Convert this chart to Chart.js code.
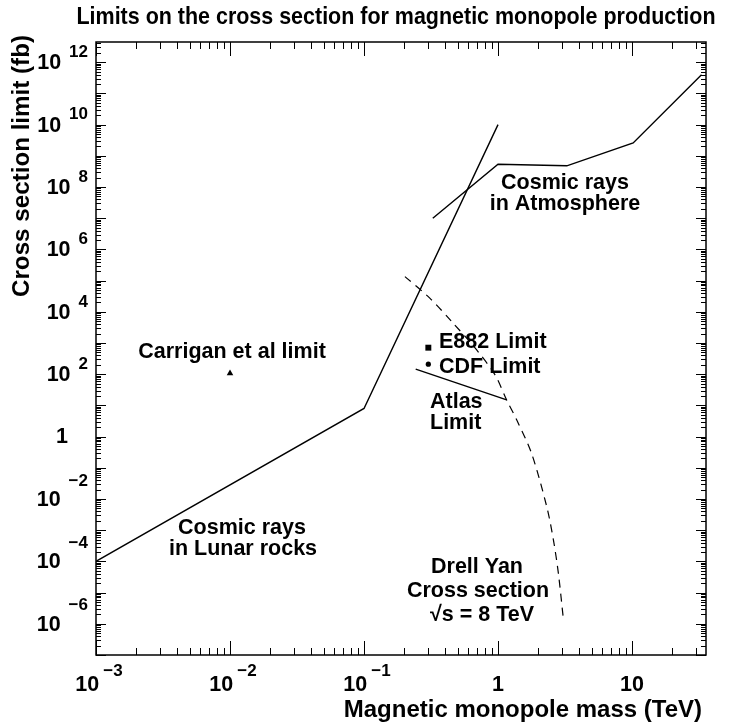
<!DOCTYPE html>
<html>
<head>
<meta charset="utf-8">
<script src="https://cdn.jsdelivr.net/npm/chart.js@4.4.1/dist/chart.umd.min.js"></script>
<style>
  html, body { margin: 0; padding: 0; background: #fff; }
  canvas { display: block; }
</style>
</head>
<body>
<canvas id="c" width="731" height="726"></canvas>
<script>
// ---- Data: mass in TeV, cross section in fb ----
const lunarMass = [0.001, 0.1, 1.0];
const lunarXsec = [1e-4, 8, 1e10];

const atmosMass = [0.326, 1.0, 3.26, 10.2, 33];
const atmosXsec = [1e7, 5.4e8, 4.8e8, 2.6e9, 4e11];

const atlasMass = [0.243, 1.16];
const atlasXsec = [145, 15];

const dyMass = [0.202, 0.311, 0.451, 0.693, 0.950, 1.16, 1.38, 1.78, 2.31, 2.59, 2.82, 3.07];
const dyXsec = [1.35e5, 2.7e4, 4.9e3, 600, 95, 15, 3.4, 0.29, 5.7e-3, 4.9e-4, 4.2e-5, 1.5e-6];

const e882Point     = [0.302, 710];
const cdfPoint      = [0.302, 210];
const carriganPoint = [0.01, 107];

// decade exponents that get a label
const xTickExp = [-3, -2, -1, 0, 1];
const yTickExp = [-6, -4, -2, 0, 2, 4, 6, 8, 10, 12];

const FONT = '"Liberation Sans", Arial, Helvetica, sans-serif';

const pts = (xs, ys) => xs.map((x, i) => ({ x: x, y: ys[i] }));

// text helper; optional width squeezes/stretches the text horizontally
function drawText(ctx, text, x, y, size, align, width) {
  ctx.save();
  ctx.font = 'bold ' + size + 'px ' + FONT;
  ctx.textBaseline = 'middle';
  ctx.textAlign = align || 'center';
  ctx.translate(x, y);
  if (width) {
    const w = ctx.measureText(text).width;
    ctx.scale(width / w, 1);
  }
  ctx.fillText(text, 0, 0);
  ctx.restore();
}

function textWidth(ctx, text, size) {
  ctx.font = 'bold ' + size + 'px ' + FONT;
  return ctx.measureText(text).width;
}

const sup = e => String(e).replace('-', '\u2212');

// ---- Frame, ROOT-style ticks and labels ----
const frame = {
  id: 'frame',
  afterDraw(chart) {
    const ctx = chart.ctx;
    const a = chart.chartArea;
    const xs = chart.scales.x, ys = chart.scales.y;
    ctx.save();
    ctx.strokeStyle = '#000';
    ctx.fillStyle = '#000';

    // ticks
    ctx.lineWidth = 1;
    ctx.beginPath();
    for (let e = -7; e <= 12; e++) {
      for (let m = 1; m <= 9; m++) {
        const v = m * Math.pow(10, e);
        if (v < ys.min || v > ys.max) continue;
        const py = Math.round(ys.getPixelForValue(v)) + 0.5;
        const len = m === 1 ? 10 : 5;
        ctx.moveTo(a.left, py); ctx.lineTo(a.left + len, py);
        ctx.moveTo(a.right, py); ctx.lineTo(a.right - len, py);
      }
    }
    for (let e = -3; e <= 1; e++) {
      for (let m = 1; m <= 9; m++) {
        const v = m * Math.pow(10, e);
        if (v < xs.min || v > xs.max) continue;
        const px = Math.round(xs.getPixelForValue(v)) + 0.5;
        const len = m === 1 ? 14 : 7;
        ctx.moveTo(px, a.bottom); ctx.lineTo(px, a.bottom - len);
        ctx.moveTo(px, a.top); ctx.lineTo(px, a.top + len);
      }
    }
    ctx.stroke();

    // frame
    ctx.lineWidth = 1.5;
    ctx.strokeRect(a.left, a.top, a.right - a.left, a.bottom - a.top);

    // y labels
    yTickExp.forEach(e => {
      const py = ys.getPixelForValue(Math.pow(10, e));
      if (e === 0) { drawText(ctx, '1', 68, py, 21.5, 'right'); return; }
      const s = sup(e);
      const ew = textWidth(ctx, s, 17);
      drawText(ctx, s, 88, py - (e < 0 ? 18 : 10), 17, 'right');
      drawText(ctx, '10', 88 - ew - 8, py + 1, 21.5, 'right');
    });

    // x labels
    xTickExp.forEach(e => {
      const px = xs.getPixelForValue(Math.pow(10, e));
      if (e === 0) { drawText(ctx, '1', px, 685, 21.5); return; }
      if (e === 1) { drawText(ctx, '10', px, 685, 21.5); return; }
      const s = sup(e);
      const w1 = textWidth(ctx, '10', 21.5), w2 = textWidth(ctx, s, 17);
      const x0 = px - (w1 + 4 + w2) / 2 + 3;
      drawText(ctx, '10', x0, 685, 21.5, 'left');
      drawText(ctx, s, x0 + w1 + 4, 671, 17, 'left');
    });

    // titles
    drawText(ctx, 'Limits on the cross section for magnetic monopole production', 396, 17, 24, 'center', 639);
    drawText(ctx, 'Magnetic monopole mass (TeV)', 702, 710, 24, 'right');
    ctx.save();
    ctx.translate(22.5, 166);
    ctx.rotate(-Math.PI / 2);
    drawText(ctx, 'Cross section limit (fb)', 0, 0, 23, 'center', 262);
    ctx.restore();

    // annotations
    const notes = [
      ['Carrigan et al limit', 232, 352, 'center'],
      ['E882 Limit', 439, 342, 'left'],
      ['CDF Limit', 439, 367, 'left'],
      ['Atlas', 430, 402, 'left'],
      ['Limit', 430, 423, 'left'],
      ['Cosmic rays', 565, 183, 'center'],
      ['in Atmosphere', 565, 204, 'center'],
      ['Cosmic rays', 242, 528, 'center'],
      ['in Lunar rocks', 243, 549, 'center'],
      ['Drell Yan', 477, 567, 'center'],
      ['Cross section', 478, 591, 'center'],
      ['\u221As = 8 TeV', 482, 615, 'center']
    ];
    notes.forEach(n => drawText(ctx, n[0], n[1], n[2], 21.5, n[3]));
    ctx.restore();
  }
};

const solid = { borderColor: '#000', borderWidth: 1.4, pointRadius: 0, showLine: true, fill: false };

new Chart(document.getElementById('c'), {
  type: 'scatter',
  data: {
    datasets: [
      Object.assign({ label: 'Lunar rocks', data: pts(lunarMass, lunarXsec) }, solid),
      Object.assign({ label: 'Atmosphere', data: pts(atmosMass, atmosXsec) }, solid),
      Object.assign({ label: 'Atlas', data: pts(atlasMass, atlasXsec) }, solid),
      {
        label: 'Drell Yan', data: pts(dyMass, dyXsec),
        borderColor: '#000', borderWidth: 1.2, borderDash: [8, 6],
        pointRadius: 0, showLine: true, fill: false, tension: 0.3
      },
      {
        label: 'E882', data: [{ x: e882Point[0], y: e882Point[1] }],
        pointStyle: 'rect', pointRadius: 4.2, backgroundColor: '#000', borderColor: '#000', borderWidth: 0
      },
      {
        label: 'CDF', data: [{ x: cdfPoint[0], y: cdfPoint[1] }],
        pointStyle: 'circle', pointRadius: 2.6, backgroundColor: '#000', borderColor: '#000', borderWidth: 0
      },
      {
        label: 'Carrigan', data: [{ x: carriganPoint[0], y: carriganPoint[1] }],
        pointStyle: 'triangle', pointRadius: 3.8, backgroundColor: '#000', borderColor: '#000', borderWidth: 0
      }
    ]
  },
  options: {
    responsive: false,
    animation: false,
    layout: { padding: { left: 96, top: 42, right: 25, bottom: 71 } },
    plugins: { legend: { display: false }, tooltip: { enabled: false } },
    scales: {
      x: { type: 'logarithmic', min: 1e-3, max: Math.pow(10, 1.552), bounds: 'data', display: false },
      y: { type: 'logarithmic', min: 1e-7, max: Math.pow(10, 12.65), bounds: 'data', display: false }
    }
  },
  plugins: [frame]
});
</script>
</body>
</html>
